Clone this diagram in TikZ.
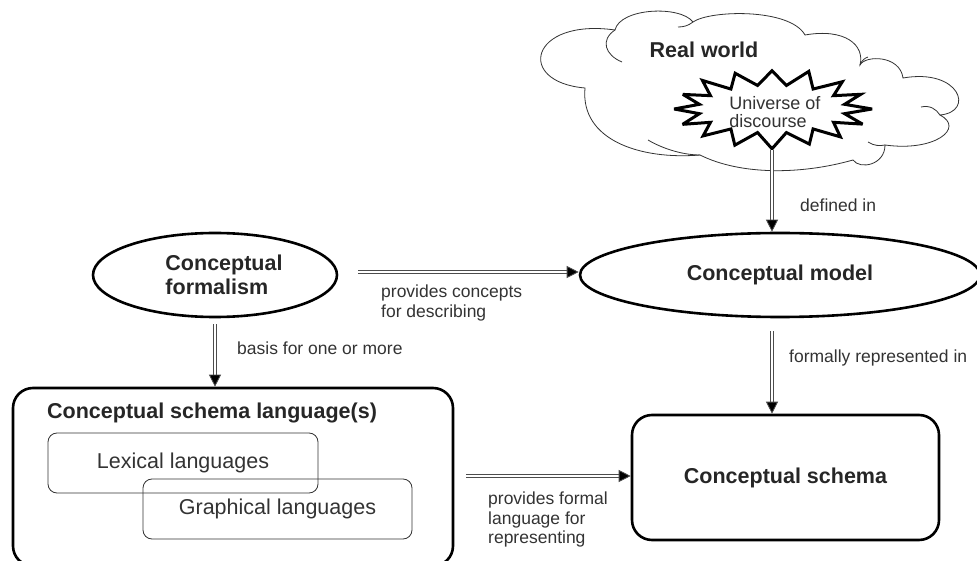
\documentclass[tikz,border=0pt]{standalone}
\usepackage{fontspec}
\setmainfont{Liberation Sans}
\usetikzlibrary{shapes.geometric,arrows.meta}

\definecolor{ink}{HTML}{262626}
\definecolor{labelink}{HTML}{333333}

\tikzset{
  boldtext/.style={font=\fontsize{21.5}{24}\selectfont\bfseries, text=ink},
  boxtext/.style={font=\fontsize{21.5}{24}\selectfont, text=labelink},
  edgelabel/.style={font=\fontsize{17.5}{19.5}\selectfont, text=labelink, inner sep=0pt, align=left},
  bigellipse/.style={ellipse, draw=black, line width=2.6pt, inner sep=0pt},
  bigbox/.style={rectangle, rounded corners=20pt, draw=black, line width=2.6pt, inner sep=0pt},
  smallbox/.style={rectangle, rounded corners=9pt, draw=black!80, line width=0.8pt, inner sep=0pt},
  dblarrow/.style={draw=black!70, line width=0.8pt, double=white, double distance=1.7pt,
    -{Triangle[length=12pt,width=12pt,fill=black]}},
  cloudline/.style={draw=black!80, line width=0.8pt}
}

\begin{document}
\begin{tikzpicture}[x=1pt,y=1pt]
\useasboundingbox (0,0) rectangle (977,560);

% --- the real world cloud ---
\filldraw[cloudline, fill=white]
  (585,472) .. controls (515,478) and (530,542) .. (615,530)
  .. controls (620,552) and (680,555) .. (693,538)
  .. controls (710,550) and (790,552) .. (805,525)
  .. controls (845,532) and (865,515) .. (860,495)
  .. controls (865,505) and (900,505) .. (903,482)
  .. controls (960,492) and (975,448) .. (940,445)
  .. controls (965,432) and (935,408) .. (885,415)
  .. controls (885,395) and (860,390) .. (853,400)
  .. controls (800,385) and (740,385) .. (700,405)
  .. controls (640,400) and (580,420) .. cycle;
% inner fold lines of the cloud
\draw[cloudline] (615,530) .. controls (600,520) and (605,505) .. (622,498);
\draw[cloudline] (693,538) .. controls (688,534) and (683,533) .. (678,533);
\draw[cloudline] (648,420) .. controls (665,410) and (685,405) .. (700,405);
\draw[cloudline] (921,453) .. controls (930,455) and (936,451) .. (940,445);
\draw[cloudline] (868,418) .. controls (874,414) and (880,414) .. (885,415);
\draw[cloudline] (860,495) .. controls (862,500) and (865,502) .. (868,503);

\node[boldtext] (realworld) at (704,510) {Real world};

% --- universe of discourse ---
\node[ellipse, minimum width=200pt, minimum height=82pt, inner sep=0pt] (uod) at (772,451) {};
\filldraw[draw=black, fill=white, line width=3pt, line join=miter, miter limit=4]
  plot[samples at={0,...,31}, variable=\k]
    ({772 + ifthenelse(mod(\k,2)==0, 100-4*abs(sin(\k*137)), 74)*cos(11.25*\k)},
     {451 + ifthenelse(mod(\k,2)==0, 41-3*abs(sin(\k*211)), 24)*sin(11.25*\k)}) -- cycle;
\node[boxtext, align=left, inner sep=0pt, font=\fontsize{18}{17.5}\selectfont] (uodtext) at (775,448) {Universe of\\discourse};

% --- main nodes ---
\node[bigellipse, minimum width=244pt, minimum height=84pt] (formalism) at (215,285) {};
\node[boldtext, align=left, inner sep=0pt] (formalismtext) at (224,285) {Conceptual\\formalism};
\node[bigellipse, minimum width=400pt, minimum height=84pt, boldtext] (model) at (780,285)
  {Conceptual model};
\node[bigbox, minimum width=307pt, minimum height=125pt, boldtext] (schema) at (785.5,82.5)
  {Conceptual schema};
\node[bigbox, minimum width=440pt, minimum height=178pt] (lang) at (233,83) {};
\node[boldtext, anchor=west, inner sep=0pt] (langtitle) at (47,147) {Conceptual schema language(s)};
\node[smallbox, minimum width=270pt, minimum height=60pt, boxtext] (lexical) at (183,97)
  {Lexical languages};
\node[smallbox, minimum width=269pt, minimum height=60pt, boxtext] (graphical) at (277.5,51)
  {Graphical languages};

% --- connectors ---
\draw[dblarrow, shorten <=20pt] ([yshift=3pt]formalism.east) -- ([yshift=3pt]model.west);
\node[edgelabel, anchor=north west] (l1) at (381,275) {provides concepts\\for describing};

\draw[dblarrow, shorten <=6pt] (formalism.south) -- (formalism.south |- lang.north);
\node[edgelabel, anchor=west] (l2) at (237,212) {basis for one or more};

\draw[dblarrow] (uod.south) -- (uod.south |- model.north);
\node[edgelabel, anchor=west] (l3) at (800,355) {defined in};

\draw[dblarrow, shorten <=13pt] ([xshift=-8pt]model.south) -- ([xshift=-8pt]model.south |- schema.north);
\node[edgelabel, anchor=west] (l4) at (789,202) {formally represented in};

\draw[dblarrow, shorten <=12pt] ([yshift=1pt]lang.east) -- ([yshift=1pt]lang.east -| schema.west);
\node[edgelabel, anchor=north west] (l5) at (488,68) {provides formal\\language for\\representing};

\end{tikzpicture}
\end{document}
